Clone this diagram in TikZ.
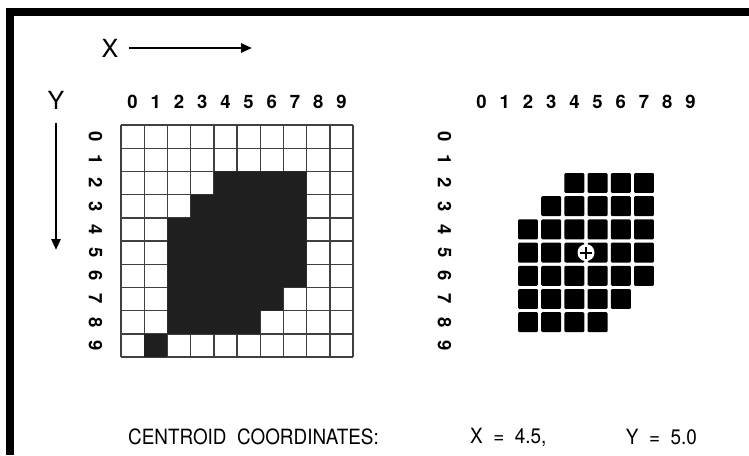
\documentclass[tikz,border=0pt]{standalone}
\usepackage{fontspec}
\setmainfont{TeX Gyre Heros}
\usetikzlibrary{arrows.meta}

\begin{document}
\begin{tikzpicture}[x=1pt, y=-1pt, >={Triangle[length=11pt,width=9pt]},
    digit/.style={font=\bfseries\fontsize{18.5}{18.5}\selectfont, inner sep=0pt},
    axislabel/.style={font=\fontsize{25}{25}\selectfont, inner sep=0pt},
    axisarrow/.style={->, line width=2.6pt},
    gridline/.style={line width=1.4pt, draw=black!75},
    blob/.style={fill=black!88},
    pixel/.style={fill=black, rounded corners=1.2pt},
    centroidmark/.style={circle, fill=white, minimum size=17pt, inner sep=0pt},
    caption/.style={font=\fontsize{21}{21}\selectfont, inner sep=0pt, xscale=0.9}]

    \useasboundingbox (0,0) rectangle (749,455);

    % --- FRAME ---
    \fill (6,8) rectangle (749,16);
    \fill (6,8) rectangle (14,455);

    % --- AXES ---
    \node[axislabel] (xlab) at (110,48) {X};
    \coordinate (xend) at (252,48);
    \draw[axisarrow, shorten <=10pt] (xlab) -- (xend);

    \node[axislabel] (ylab) at (56,100) {Y};
    \coordinate (yend) at (56,250);
    \draw[axisarrow, shorten <=14pt] (ylab) -- (yend);

    % --- ORIGINAL IMAGE ---
    \begin{scope}[xshift=121pt, yshift=-125pt, x=23.2pt, y=-23.2pt]
      \foreach \k in {0,...,10} {
        \draw[gridline] (\k,0) -- (\k,10);
        \draw[gridline] (0,\k) -- (10,\k);
      }
      % object area
      \fill[blob] (4,2) -- (8,2) -- (8,7) -- (7,7) -- (7,8) -- (6,8) -- (6,9)
        -- (2,9) -- (2,4) -- (3,4) -- (3,3) -- (4,3) -- cycle;
      \fill[blob] (1,9) rectangle (2,10);
      \foreach \i in {0,...,9} {
        \node[digit] (ocol\i) at (\i+0.5,-1) {\i};
        \node[digit, rotate=-90] (orow\i) at (-1.1,\i+0.5) {\i};
      }
    \end{scope}

    % --- THRESHOLDED IMAGE ---
    \begin{scope}[xshift=470pt, yshift=-125pt, x=23.2pt, y=-23.2pt]
      \foreach \r/\a/\b in {2/4/7, 3/3/7, 4/2/7, 5/2/7, 6/2/7, 7/2/6, 8/2/5}
        \foreach \c in {\a,...,\b}
          \fill[pixel] (\c+0.07,\r+0.07) rectangle (\c+0.93,\r+0.93);
      \foreach \i in {0,...,9} {
        \node[digit] (bcol\i) at (\i+0.5,-1) {\i};
        \node[digit, rotate=-90] (brow\i) at (-1.1,\i+0.5) {\i};
      }
      % centroid
      \node[centroidmark] (centroid) at (5,5.5) {};
      \draw[line width=1.8pt] (centroid.center) +(-6pt,0) -- +(6pt,0)
        (centroid.center) +(0,-6pt) -- +(0,6pt);
    \end{scope}

    % --- RESULT ---
    \node[caption, anchor=west] (capname) at (128,437) {CENTROID\ \ COORDINATES:};
    \node[caption, anchor=west] (capx) at (470,437) {X \ = \ 4.5,};
    \node[caption, anchor=east] (capy) at (697,437) {Y \ = \ 5.0};

\end{tikzpicture}
\end{document}
